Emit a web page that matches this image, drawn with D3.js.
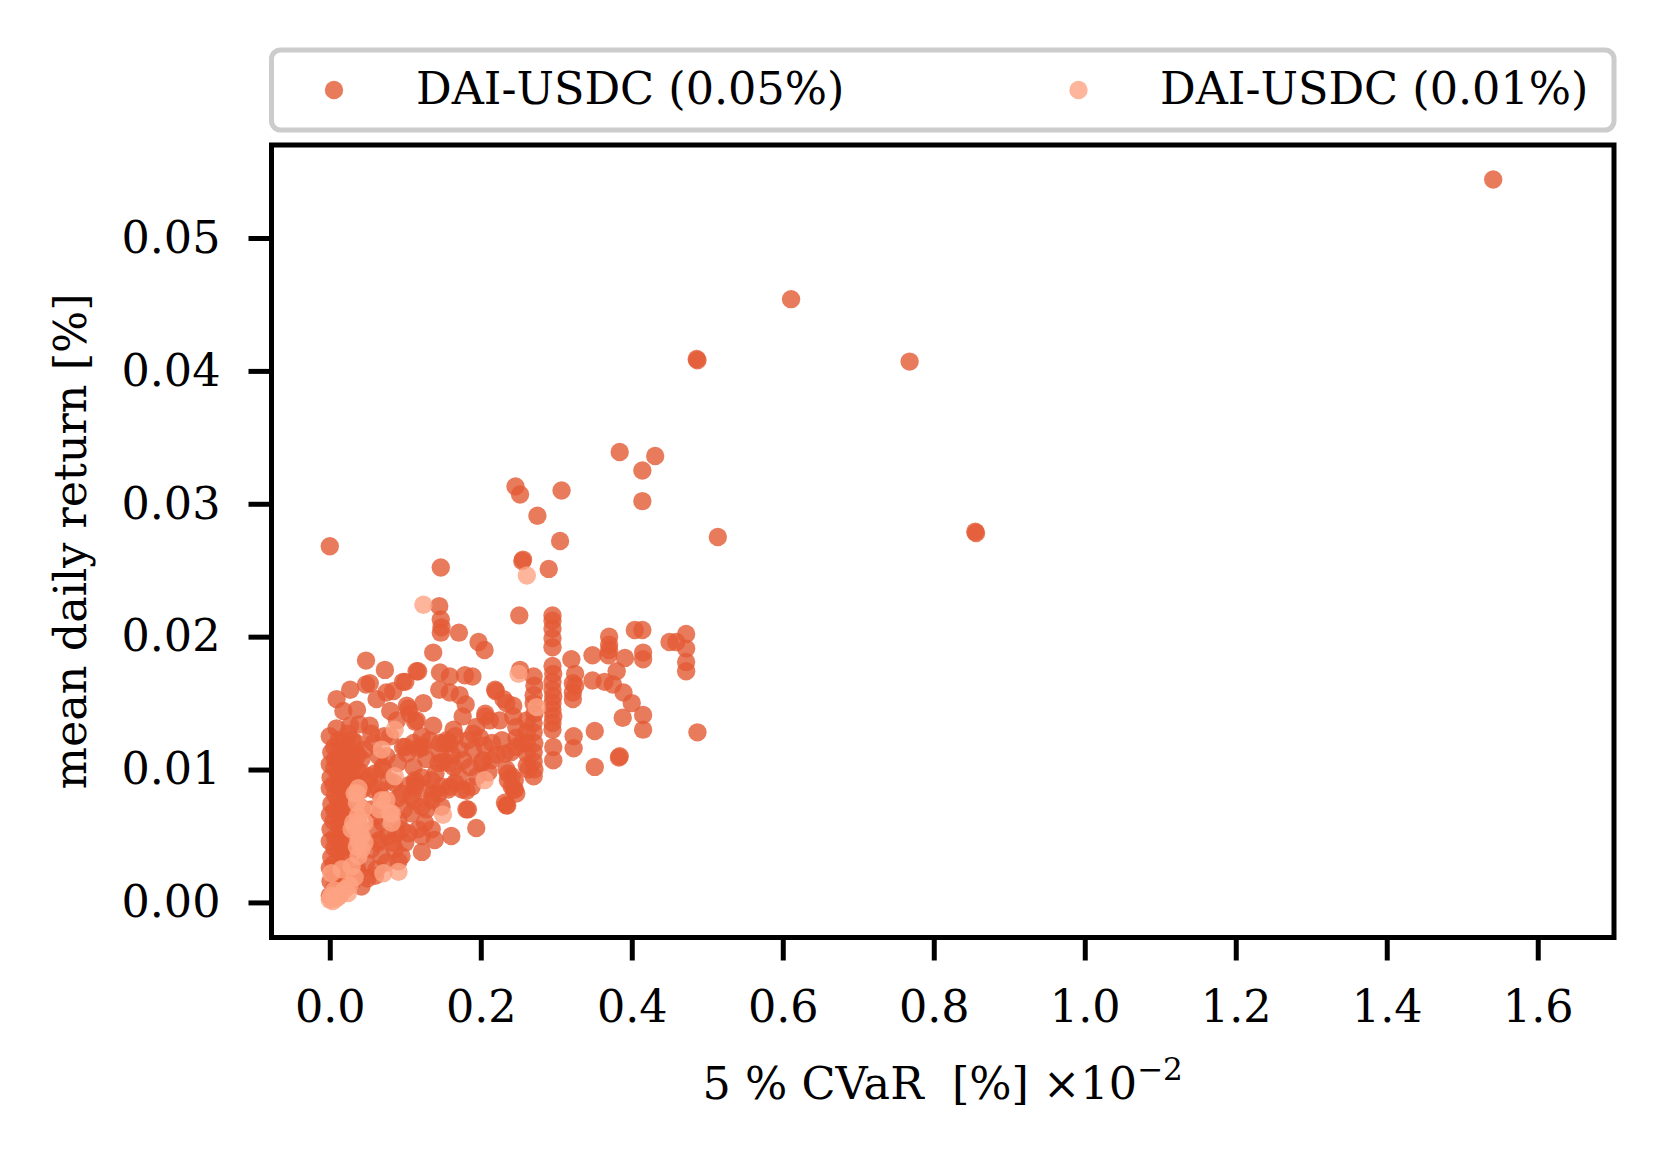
<!DOCTYPE html>
<html>
<head>
<meta charset="utf-8">
<script src="https://cdn.jsdelivr.net/npm/d3@7"></script>
<style>
  html, body { margin: 0; padding: 0; background: #ffffff; }
  svg text { font-family: "DejaVu Serif", serif; }
</style>
</head>
<body>
<script>
// ---------------- data ----------------
const seriesNames = ["DAI-USDC (0.05%)", "DAI-USDC (0.01%)"];
const seriesColors = ["#e45a35", "#fca282"];

const xTicks = [0.0, 0.2, 0.4, 0.6, 0.8, 1.0, 1.2, 1.4, 1.6];
const yTicks = [0.00, 0.01, 0.02, 0.03, 0.04, 0.05];

// DAI-USDC (0.05%) : [CVaR (x1e-2 %), mean daily return %]
const pool005 = [
  [1.541,0.0544],[0.611,0.0454],[0.486,0.0409],[0.487,0.0408],[0.768,0.0407],[0.855,0.0279],[0.856,0.0278],[0.514,0.0275],
  [0.384,0.0339],[0.431,0.0336],[0.414,0.0325],[0.414,0.0302],[0.246,0.0313],[0.252,0.0307],[0.307,0.0310],[0.275,0.0291],
  [0.256,0.0258],[0.255,0.0257],[0.305,0.0272],[0.290,0.0251],[0.000,0.0268],[0.147,0.0252],[0.145,0.0223],[0.147,0.0213],
  [0.147,0.0203],[0.148,0.0207],[0.171,0.0203],[0.197,0.0196],[0.205,0.0190],[0.251,0.0216],
  [0.295,0.0216],[0.295,0.0212],[0.295,0.0206],[0.295,0.0199],[0.295,0.0192],
  [0.137,0.0188],[0.048,0.0182],[0.320,0.0183],[0.348,0.0186],
  [0.370,0.0200],[0.370,0.0194],[0.370,0.0190],[0.369,0.0186],[0.404,0.0205],[0.414,0.0205],
  [0.472,0.0202],[0.459,0.0196],[0.472,0.0191],[0.472,0.0181],[0.472,0.0174],[0.450,0.0196],
  [0.415,0.0188],[0.415,0.0183],[0.391,0.0184],
  [0.380,0.0174],[0.348,0.0167],[0.364,0.0166],[0.375,0.0164],[0.389,0.0158],[0.400,0.0150],
  [0.415,0.0141],[0.415,0.0130],[0.388,0.0139],[0.351,0.0129],[0.323,0.0125],[0.323,0.0116],
  [0.384,0.0110],[0.383,0.0109],[0.351,0.0102],[0.487,0.0128],
  [0.322,0.0165],[0.322,0.0158],[0.322,0.0153],[0.325,0.0172],[0.325,0.0163],
  [0.295,0.0178],[0.296,0.0172],[0.295,0.0166],[0.295,0.0160],[0.296,0.0155],[0.295,0.0150],[0.295,0.0145],
  [0.296,0.0140],[0.295,0.0135],[0.295,0.0130],[0.296,0.0117],[0.296,0.0107],
  [0.270,0.0170],[0.271,0.0163],[0.270,0.0156],[0.270,0.0150],[0.271,0.0142],[0.270,0.0135],[0.270,0.0128],
  [0.271,0.0120],[0.270,0.0113],[0.270,0.0106],[0.271,0.0100],[0.270,0.0095],
  [0.252,0.0175],[0.247,0.0132],[0.247,0.0124],[0.247,0.0117],[0.261,0.0137],[0.261,0.0128],[0.261,0.0120],
  [0.261,0.0112],[0.261,0.0103],
  [0.073,0.0175],[0.115,0.0174],[0.048,0.0164],[0.053,0.0165],[0.097,0.0166],[0.027,0.0160],[0.009,0.0153],
  [0.062,0.0153],[0.075,0.0158],[0.084,0.0159],[0.124,0.0150],[0.102,0.0148],[0.115,0.0137],[0.106,0.0142],
  [0.036,0.0145],[0.018,0.0144],[0.080,0.0144],[0.089,0.0137],[0.009,0.0131],[0.000,0.0125],[0.027,0.0133],
  [0.039,0.0134],[0.053,0.0133],[0.058,0.0120],[0.080,0.0125],[0.097,0.0117],[0.111,0.0120],
  [0.053,0.0095],[0.070,0.0102],[0.111,0.0102],[0.113,0.0087],[0.124,0.0117],[0.132,0.0122],[0.146,0.0112],
  [0.155,0.0122],[0.146,0.0173],[0.159,0.0170],[0.179,0.0171],[0.189,0.0170],[0.145,0.0160],[0.159,0.0158],
  [0.172,0.0156],[0.100,0.0166],[0.117,0.0174],[0.180,0.0149],[0.104,0.0146],[0.113,0.0136],
  [0.220,0.0159],[0.230,0.0153],[0.243,0.0148],[0.206,0.0142],[0.212,0.0137],
  [0.164,0.0130],[0.159,0.0120],[0.172,0.0115],[0.190,0.0127],[0.199,0.0124],
  [0.146,0.0120],[0.150,0.0106],[0.164,0.0102],[0.177,0.0107],[0.186,0.0102],[0.203,0.0107],[0.221,0.0111],
  [0.234,0.0100],[0.236,0.0092],[0.245,0.0085],
  [0.119,0.0117],[0.102,0.0112],[0.113,0.0092],[0.111,0.0077],[0.137,0.0082],[0.159,0.0087],[0.181,0.0084],
  [0.181,0.0070],[0.234,0.0073],[0.128,0.0070],
  [0.219,0.0160],[0.234,0.0150],[0.243,0.0140],[0.225,0.0137],[0.206,0.0140],[0.194,0.0132],
  [0.236,0.0097],[0.241,0.0087],[0.247,0.0082],[0.232,0.0075],
  [0.194,0.0056],[0.183,0.0070],[0.161,0.0050],[0.122,0.0038],[0.235,0.0073],[0.244,0.0085],[0.241,0.0095],
  [0.100,0.0045],[0.095,0.0035],[0.091,0.0031],[0.117,0.0055],[0.126,0.0060],[0.135,0.0055],[0.139,0.0047],
  [0.122,0.0050],[0.108,0.0067],[0.122,0.0072],[0.135,0.0077],[0.144,0.0082],[0.148,0.0072],
  [0.113,0.0090],[0.122,0.0094],[0.108,0.0080],[0.166,0.0090],[0.157,0.0085],[0.175,0.0085],[0.188,0.0087],
  [0.144,0.0105],[0.157,0.0105],[0.153,0.0120],[0.166,0.0125],[0.183,0.0122],
  [0.201,0.0105],[0.214,0.0107],[0.232,0.0112],[0.245,0.0092],[0.254,0.0120],[0.263,0.0100],
  [0.135,0.0092],[0.148,0.0087],[0.077,0.0050],[0.086,0.0040],[0.104,0.0052],
  [0.055,0.0070],[0.060,0.0097],[0.051,0.0092],[0.046,0.0115],[0.033,0.0105],[0.055,0.0127],
  [0.100,0.0117],[0.117,0.0115],[0.122,0.0125],[0.091,0.0062],[0.095,0.0055],[0.038,0.0022],[0.042,0.0012],
  [0.048,0.0030],[0.055,0.0040],[0.062,0.0025],[0.068,0.0035],[0.058,0.0055],[0.066,0.0047],[0.075,0.0030],
  [0.083,0.0045],[0.045,0.0045],[0.050,0.0018],[0.070,0.0060],[0.088,0.0052],
  [0.065,0.0085],[0.075,0.0110],[0.090,0.0105],[0.085,0.0090],[0.095,0.0082],[0.078,0.0092],
  [0.195,0.0095],[0.210,0.0098],[0.190,0.0115],[0.215,0.0120],
  [0.060,0.0020],[0.064,0.0045],[0.062,0.0065],[0.068,0.0080],[0.070,0.0100],[0.065,0.0110],[0.072,0.0125],[0.058,0.0085],
  [0.079,0.0072],[0.098,0.0070],[0.104,0.0088],[0.089,0.0078],[0.129,0.0085],[0.140,0.0097],[0.171,0.0095],
  [0.205,0.0118],[0.228,0.0122],[0.240,0.0113],[0.176,0.0140],[0.137,0.0133],[0.128,0.0108],[0.162,0.0111],
  [0.000,0.0005],[0.001,0.0016],[0.000,0.0026],[0.002,0.0034],[0.000,0.0046],[0.001,0.0055],[0.000,0.0066],
  [0.002,0.0074],[0.000,0.0086],[0.001,0.0094],[0.000,0.0104],[0.002,0.0113],
  [0.006,0.0011],[0.007,0.0021],[0.005,0.0029],[0.006,0.0041],[0.007,0.0049],[0.005,0.0061],[0.006,0.0069],
  [0.007,0.0081],[0.005,0.0089],[0.006,0.0101],[0.007,0.0108],[0.006,0.0117],
  [0.012,0.0008],[0.011,0.0019],[0.013,0.0027],[0.012,0.0039],[0.011,0.0047],[0.013,0.0058],[0.012,0.0069],
  [0.011,0.0077],[0.013,0.0088],[0.012,0.0097],[0.011,0.0106],[0.013,0.0115],[0.012,0.0122],
  [0.018,0.0013],[0.019,0.0022],[0.017,0.0033],[0.018,0.0042],[0.019,0.0053],[0.017,0.0062],[0.018,0.0071],
  [0.019,0.0083],[0.017,0.0092],[0.018,0.0101],[0.019,0.0112],[0.018,0.0121],
  [0.024,0.0021],[0.025,0.0035],[0.023,0.0049],[0.024,0.0066],[0.025,0.0079],[0.023,0.0091],[0.024,0.0099],
  [0.025,0.0111],[0.023,0.0118],[0.024,0.0127],
  [0.030,0.0016],[0.031,0.0040],[0.029,0.0066],[0.030,0.0094],[0.031,0.0104],[0.029,0.0113],[0.030,0.0122],
  [0.036,0.0026],[0.037,0.0061],[0.035,0.0089],[0.036,0.0100],[0.037,0.0111],[0.035,0.0120],
  [0.042,0.0071],[0.043,0.0085],[0.041,0.0098],[0.042,0.0108]
];

// DAI-USDC (0.01%)
const pool001 = [
  [0.124,0.0224],[0.261,0.0246],[0.250,0.0172],[0.274,0.0147],[0.205,0.0092],[0.150,0.0066],[0.086,0.0095],
  [0.069,0.0115],[0.086,0.0130],[0.066,0.0070],[0.069,0.0077],[0.082,0.0067],[0.082,0.0060],[0.075,0.0077],
  [0.080,0.0067],[0.071,0.0022],[0.091,0.0023],
  [0.033,0.0082],[0.033,0.0057],[0.042,0.0050],[0.038,0.0035],[0.036,0.0082],[0.036,0.0075],[0.031,0.0060],
  [0.040,0.0050],[0.036,0.0042],[0.038,0.0086],[0.029,0.0055],[0.038,0.0047],[0.040,0.0057],[0.042,0.0040],
  [0.029,0.0027],[0.033,0.0019],[0.016,0.0025],[0.002,0.0022],[0.000,0.0002],[0.011,0.0004],[0.024,0.0007],
  [0.004,0.0001],[0.008,0.0003],[0.014,0.0006],[0.020,0.0010],[0.006,0.0009],[0.026,0.0013],[0.002,0.0005],
  [0.046,0.0060],[0.044,0.0070],[0.037,0.0065],[0.046,0.0045]
];

// ---------------- layout ----------------
const W = 1663, H = 1157;
const plot = { left: 271.5, right: 1614, top: 145, bottom: 937.5 };
const fontPx = 44.5;
const tickLen = 23, tickW = 5, tickPadX = 23, tickPadY = 28;
const markerR = 9.2;

const svg = d3.select("body").append("svg")
  .attr("width", W).attr("height", H)
  .attr("viewBox", `0 0 ${W} ${H}`);

svg.append("rect").attr("width", W).attr("height", H).attr("fill", "#fff");

const x = d3.scaleLinear().domain([-0.0772, 1.701]).range([plot.left, plot.right]);
const y = d3.scaleLinear().domain([-0.00264, 0.0570]).range([plot.bottom, plot.top]);

// points
const clipId = "plotclip";
svg.append("clipPath").attr("id", clipId).append("rect")
  .attr("x", plot.left).attr("y", plot.top)
  .attr("width", plot.right - plot.left).attr("height", plot.bottom - plot.top);

const gPts = svg.append("g").attr("clip-path", `url(#${clipId})`);
[pool005, pool001].forEach((data, i) => {
  gPts.append("g").selectAll("circle").data(data).join("circle")
    .attr("cx", d => x(d[0]))
    .attr("cy", d => y(d[1]))
    .attr("r", markerR)
    .attr("fill", seriesColors[i])
    .attr("fill-opacity", 0.8);
});

// axes
const xAxis = d3.axisBottom(x).tickValues(xTicks).tickFormat(d3.format(".1f"))
  .tickSizeInner(tickLen).tickSizeOuter(0).tickPadding(tickPadX);
const yAxis = d3.axisLeft(y).tickValues(yTicks).tickFormat(d3.format(".2f"))
  .tickSizeInner(tickLen).tickSizeOuter(0).tickPadding(tickPadY);

const gx = svg.append("g").attr("transform", `translate(0,${plot.bottom})`).call(xAxis);
const gy = svg.append("g").attr("transform", `translate(${plot.left},0)`).call(yAxis);
[gx, gy].forEach(g => {
  g.select(".domain").remove();
  g.selectAll(".tick line").attr("stroke", "#000").attr("stroke-width", tickW);
  g.selectAll(".tick text").attr("fill", "#000")
    .style("font-family", "'DejaVu Serif', serif").style("font-size", fontPx + "px");
});
gx.selectAll(".tick text").attr("dy", "0.86em");

// frame
svg.append("rect")
  .attr("x", plot.left).attr("y", plot.top)
  .attr("width", plot.right - plot.left).attr("height", plot.bottom - plot.top)
  .attr("fill", "none").attr("stroke", "#000").attr("stroke-width", tickW);

// axis labels
const xl = svg.append("text")
  .attr("x", (plot.left + plot.right) / 2).attr("y", 1099)
  .attr("text-anchor", "middle")
  .style("font-size", fontPx + "px").style("white-space", "pre")
  .attr("xml:space", "preserve");
xl.append("tspan").text("5 % CVaR  [%] \u00d710");
xl.append("tspan").attr("dy", -19).style("font-size", (fontPx * 0.7) + "px").text("\u22122");

svg.append("text")
  .attr("transform", `translate(86,${(plot.top + plot.bottom) / 2}) rotate(-90)`)
  .attr("text-anchor", "middle")
  .style("font-size", fontPx + "px")
  .text("mean daily return [%]");

// legend
const leg = { left: plot.left, right: plot.right, top: 50, bottom: 130 };
svg.append("rect")
  .attr("x", leg.left).attr("y", leg.top)
  .attr("width", leg.right - leg.left).attr("height", leg.bottom - leg.top)
  .attr("rx", 9).attr("ry", 9)
  .attr("fill", "#fff").attr("fill-opacity", 0.8)
  .attr("stroke", "#cccccc").attr("stroke-width", 5);

const legItems = [
  { mx: 334, tx: 416 },
  { mx: 1078.5, tx: 1160 }
];
legItems.forEach((it, i) => {
  svg.append("circle").attr("cx", it.mx).attr("cy", 90).attr("r", markerR)
    .attr("fill", seriesColors[i]).attr("fill-opacity", 0.8);
  svg.append("text").attr("x", it.tx).attr("y", 104)
    .style("font-size", fontPx + "px").text(seriesNames[i]);
});
</script>
</body>
</html>
